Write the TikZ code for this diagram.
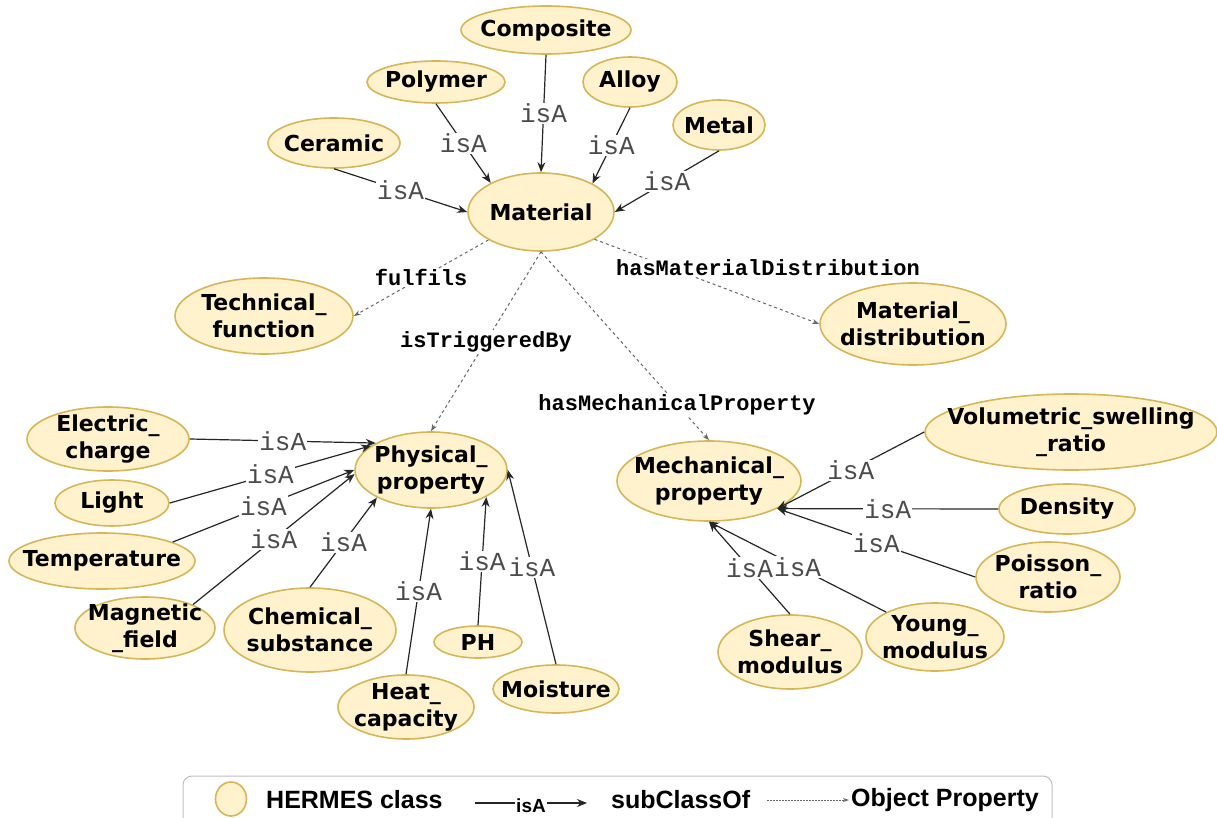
\documentclass[tikz,border=0pt]{standalone}
\usepackage{fontspec}
\setmainfont{DejaVu Sans}
\newfontfamily\lblfont{Liberation Mono}
\newfontfamily\legfont{Liberation Sans}
\usepackage{tikz}
\usetikzlibrary{arrows.meta,shapes.geometric}
\definecolor{clsfill}{HTML}{FFF2CC}
\definecolor{clsline}{HTML}{D6B656}

\begin{document}
\begin{tikzpicture}[x=1pt,y=-1pt,
  cls/.style 2 args={ellipse,draw=clsline,fill=clsfill,line width=1.6pt,minimum width=#1,minimum height=#2,inner xsep=-70pt,inner ysep=-25pt,align=center,font=\fontsize{22}{27}\selectfont\bfseries},
  isa/.style={draw=black!85,line width=1.2pt,-{Stealth[length=10pt,width=8pt]}},
  prop/.style={draw=black!60,line width=1pt,dash pattern=on 3pt off 3pt,-{Stealth[length=7pt,width=5pt]}},
  lbl/.style={fill=white,inner sep=1pt,text=black!70,font=\lblfont\fontsize{26}{26}\selectfont},
  plbl/.style={fill=white,inner sep=1pt,font=\lblfont\bfseries\fontsize{22}{22}\selectfont},
  legtext/.style={anchor=west,inner sep=0pt,font=\legfont\bfseries\fontsize{25}{25}\selectfont}]
  \useasboundingbox (0,0) rectangle (1217,818);
  \clip (0,0) rectangle (1217,818);

  \node[cls={170pt}{48pt}] (composite) at (546,30) {Composite};
  \node[cls={138pt}{42pt}] (polymer) at (436,82) {Polymer};
  \node[cls={94pt}{50pt}] (alloy) at (630,82) {Alloy};
  \node[cls={92pt}{50pt}] (metal) at (719,125) {Metal};
  \node[cls={132pt}{50pt}] (ceramic) at (334,143) {Ceramic};
  \node[cls={146pt}{78pt}] (material) at (541,212) {Material};
  \node[cls={178pt}{76pt}] (technical) at (264,316) {Technical\_\\function};
  \node[cls={186pt}{82pt}] (distribution) at (913,324) {Material\_\\distribution};

  \node[cls={152pt}{76pt}] (physical) at (431,470) {Physical\_\\property};
  \node[cls={162pt}{64pt}] (electric) at (108,439) {Electric\_\\charge};
  \node[cls={114pt}{46pt}] (light) at (112,503) {Light};
  \node[cls={186pt}{56pt}] (temperature) at (102,561) {Temperature};
  \node[cls={140pt}{62pt}] (magnetic) at (145,628) {Magnetic\\\_field};
  \node[cls={172pt}{84pt}] (chemical) at (310,630) {Chemical\_\\substance};
  \node[cls={88pt}{32pt}] (ph) at (478,642) {PH};
  \node[cls={136pt}{64pt}] (heat) at (406,707) {Heat\_\\capacity};
  \node[cls={126pt}{48pt}] (moisture) at (556,689) {Moisture};

  \node[cls={184pt}{80pt}] (mechanical) at (709,481) {Mechanical\_\\property};
  \node[cls={292pt}{76pt}] (swelling) at (1071,432) {Volumetric\_swelling\\\_ratio};
  \node[cls={136pt}{50pt}] (density) at (1067,509) {Density};
  \node[cls={144pt}{70pt}] (poisson) at (1048,577) {Poisson\_\\ratio};
  \node[cls={138pt}{68pt}] (young) at (935,637) {Young\_\\modulus};
  \node[cls={144pt}{74pt}] (shear) at (790,652) {Shear\_\\modulus};

  \draw[isa] (ceramic.south) -- node[lbl] {isA} (material.west);
  \draw[isa] (polymer.south) -- node[lbl] {isA} (material.150);
  \draw[isa] (composite.south) -- node[lbl] {isA} (material.north);
  \draw[isa] (alloy.south) -- node[lbl] {isA} (material.29);
  \draw[isa] (metal.south) -- node[lbl] {isA} (material.east);

  \draw[prop] (material.208) -- node[plbl] {fulfils} (technical.east);
  \draw[prop] (material.south) -- node[plbl] {isTriggeredBy} (physical.north);
  \draw[prop] (material.south) -- node[plbl,pos=0.81] {hasMechanicalProperty} (mechanical.north);
  \draw[prop] (material.-27) -- node[plbl,xshift=61pt,yshift=14pt] {hasMaterialDistribution} (distribution.west);

  \draw[isa] (electric.east) -- node[lbl] {isA} (physical.154);
  \draw[isa] (light.east) -- node[lbl] {isA} (physical.158);
  \draw[isa] (temperature.15) -- node[lbl] {isA} (physical.west);
  \draw[isa] (magnetic.26) -- node[lbl] {isA} (physical.183);
  \draw[isa] (chemical.north) -- node[lbl] {isA} (physical.207);
  \draw[isa] (heat.north) -- node[lbl] {isA} (physical.south);
  \draw[isa] (ph.north) -- node[lbl] {isA} (physical.-26);
  \draw[isa] (moisture.north) -- node[lbl] {isA} (physical.east);

  \draw[isa] (swelling.west) -- node[lbl] {isA} (mechanical.-22);
  \draw[isa] (density.west) -- node[lbl] {isA} (mechanical.-22);
  \draw[isa] (poisson.west) -- node[lbl] {isA} (mechanical.-22);
  \draw[isa] (young.153) -- node[lbl] {isA} (mechanical.south);
  \draw[isa] (shear.north) -- node[lbl] {isA} (mechanical.south);

  \draw[draw=black!25,fill=white,line width=1pt,rounded corners=9pt] (183,776) rectangle (1052,850);
  \node[cls={31pt}{34pt}] (legclass) at (231,799) {};
  \node[legtext] (hermes) at (266,800) {HERMES class};
  \node[legtext] (subclass) at (611,800) {subClassOf};
  \node[legtext] (objprop) at (851,800) {Object Property};
  \coordinate (isastart) at (475,803);
  \coordinate (isaend) at (587,803);
  \coordinate (propstart) at (767,800);
  \coordinate (propend) at (849,800);
  \draw[isa,line width=1.4pt] (isastart) -- node[fill=white,inner sep=1pt,yshift=-3pt,font=\legfont\bfseries\fontsize{19}{19}\selectfont] {isA} (isaend);
  \draw[prop,dash pattern=on 1.5pt off 1.5pt,-{Stealth[length=6pt,width=4pt]}] (propstart) -- (propend);
\end{tikzpicture}
\end{document}
